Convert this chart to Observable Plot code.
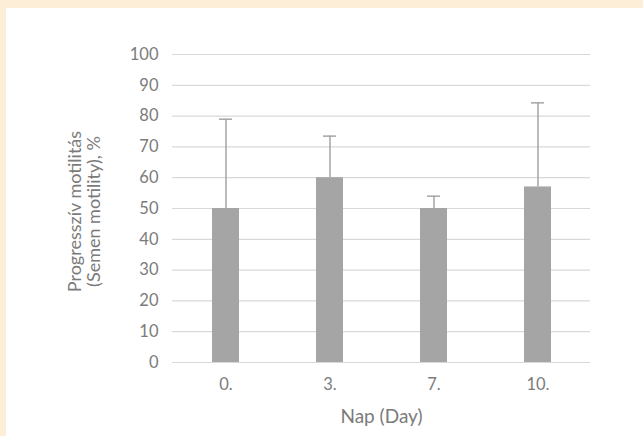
<!DOCTYPE html>
<html>
<head>
<meta charset="utf-8">
<script src="https://cdn.jsdelivr.net/npm/d3@7"></script>
<script src="https://cdn.jsdelivr.net/npm/@observablehq/plot@0.6"></script>
<style>
  html, body { margin: 0; padding: 0; }
  body { background: #fdeed8; width: 643px; height: 436px; overflow: hidden; position: relative; }
  #panel { position: absolute; left: 6px; top: 8px; width: 637px; height: 428px; background: #ffffff; }
  #panel svg { display: block; }
</style>
</head>
<body>
<div id="panel"></div>
<script>
// Progressive motility by day: means with upper standard-deviation whiskers
const days = ["0.", "3.", "7.", "10."];
const means = [50, 60, 50, 57];
const sds = [29, 13.5, 4, 27.3];
const yTicks = [0, 10, 20, 30, 40, 50, 60, 70, 80, 90, 100];

const rows = days.map((d, i) => ({day: d, mean: means[i], upper: means[i] + sds[i]}));

const barColor = "#a5a5a5";
const textColor = "#7b7b7b";

const chart = Plot.plot({
  width: 637,
  height: 428,
  marginLeft: 166,
  marginRight: 53,
  marginTop: 46,
  marginBottom: 74,
  style: {fontFamily: "Lato, 'Open Sans', sans-serif", fontSize: "16.5px", color: textColor, background: "transparent"},
  x: {domain: days, paddingInner: 0.742, paddingOuter: 0.371},
  y: {domain: [0, 100]},
  marks: [
    Plot.gridY(yTicks, {stroke: "#d9d9d9", strokeOpacity: 1, strokeWidth: 1.2}),
    Plot.barY(rows, {x: "day", y: "mean", fill: barColor}),
    Plot.ruleX(rows, {x: "day", y1: "mean", y2: "upper", stroke: barColor, strokeWidth: 1.5}),
    Plot.tickY(rows, {x: "day", y: "upper", stroke: barColor, strokeWidth: 1.5, insetLeft: 7, insetRight: 7}),
    Plot.axisY({ticks: yTicks, tickSize: 0, tickPadding: 14, label: null, fill: textColor, fontSize: 16.5}),
    Plot.axisX({tickSize: 0, tickPadding: 16, label: null, fill: textColor, fontSize: 16.5}),
    Plot.text(["Nap (Day)"], {frameAnchor: "bottom", dy: 54, lineAnchor: "middle", fill: textColor, fontSize: 19}),
    Plot.text(["Progresszív motilitás\n(Semen motility), %"], {
      frameAnchor: "left", rotate: -90, dx: -88.5, dy: 3, lineAnchor: "middle", textAnchor: "middle",
      lineHeight: 1.05, fill: textColor, fontSize: 18
    })
  ]
});

document.getElementById("panel").appendChild(chart);
</script>
</body>
</html>
